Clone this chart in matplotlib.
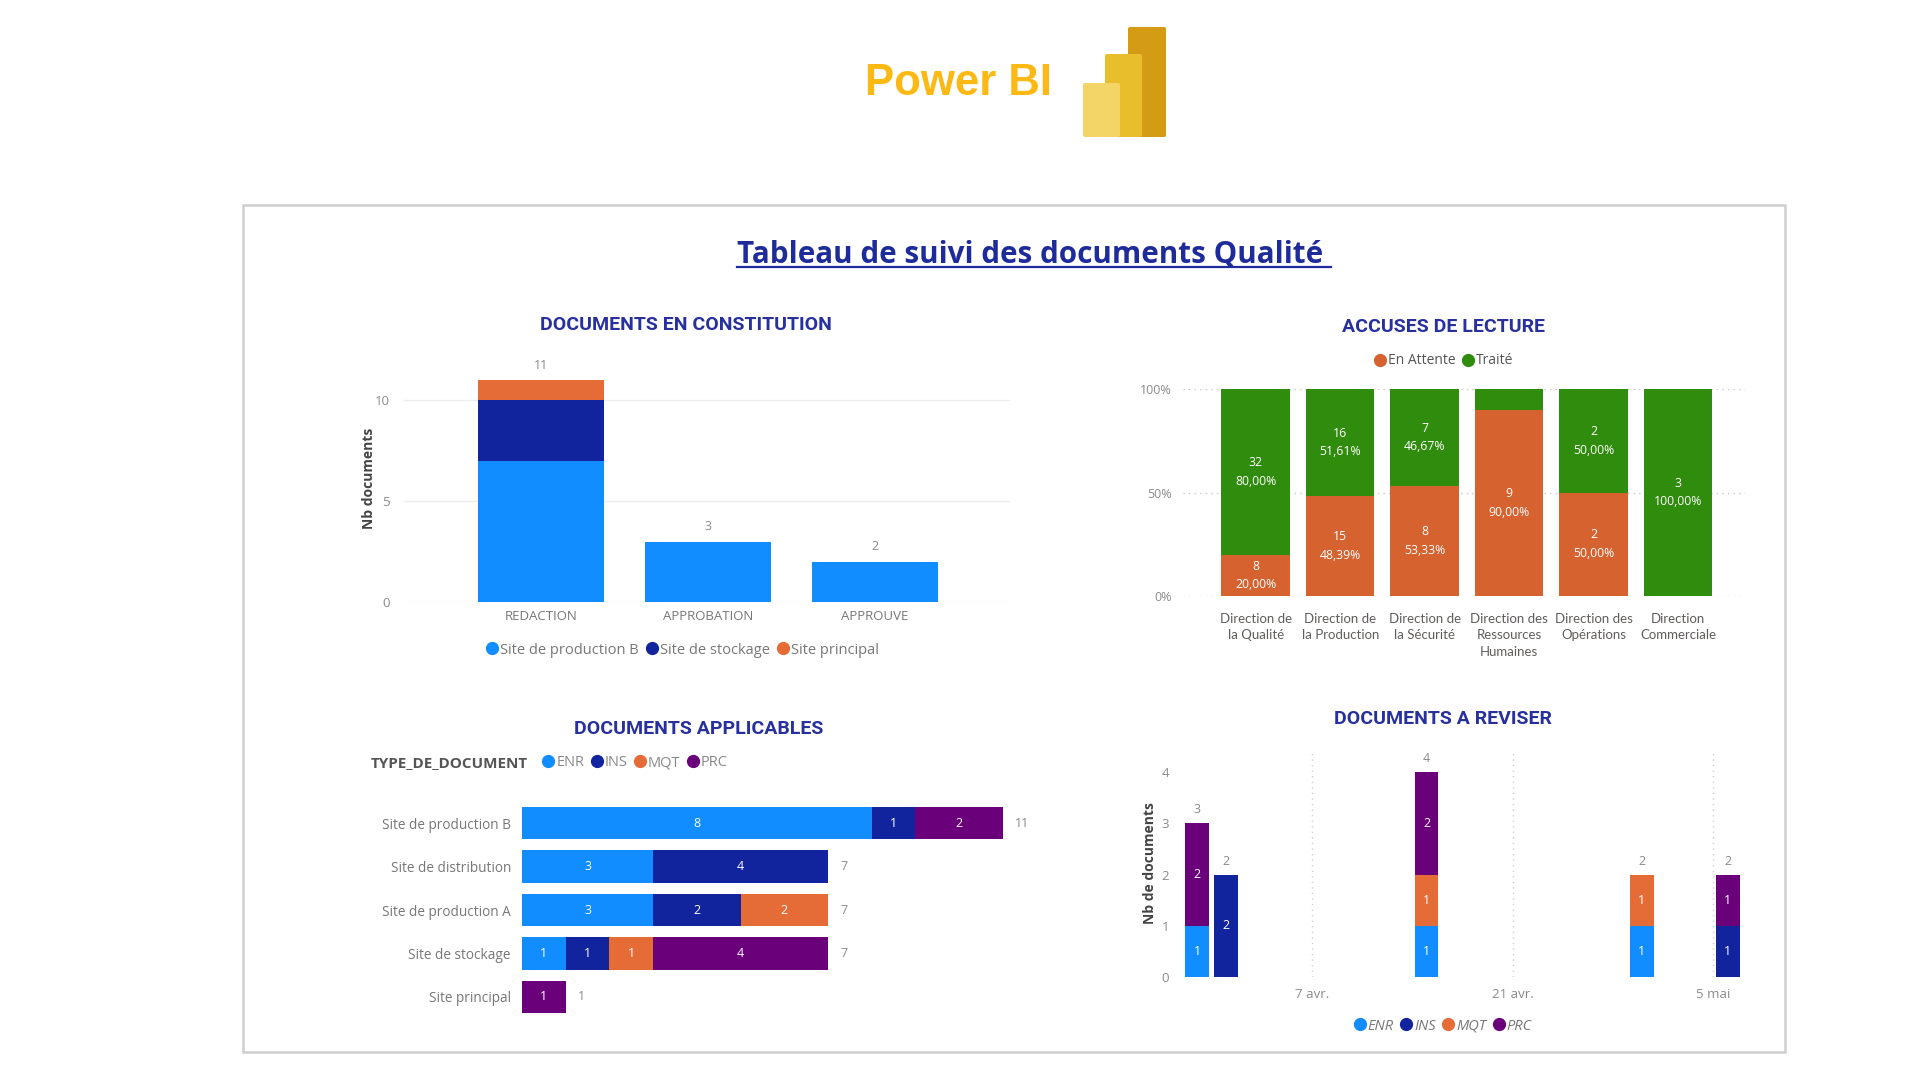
import numpy as np
import pandas as pd
import matplotlib
matplotlib.use('Agg')
import matplotlib.pyplot as plt
from matplotlib.lines import Line2D
from matplotlib.patches import Rectangle, FancyBboxPatch

plt.rcParams['font.family'] = ['Open Sans', 'DejaVu Sans']

W, H = 1920, 1080

# colours (Power BI default palette)
C_ENR = '#118DFF'
C_INS = '#12239E'
C_MQT = '#E66C37'
C_PRC = '#6B007B'
C_ATT = '#D5622F'
C_TRT = '#2F8C0C'
TITLE_C = '#27309C'
TICK_C = '#8A8A8A'
LAB_C = '#605E5C'

# --- documents en constitution
etapes = ['REDACTION', 'APPROBATION', 'APPROUVE']
const_sites = ['Site de production B', 'Site de stockage', 'Site principal']
const_prod_b = [7, 3, 2]
const_stockage = [3, 0, 0]
const_principal = [1, 0, 0]

# --- accuses de lecture
directions = ['Direction de\nla Qualité', 'Direction de\nla Production', 'Direction de\nla Sécurité',
              'Direction des\nRessources\nHumaines', 'Direction des\nOpérations', 'Direction\nCommerciale']
en_attente = [8, 15, 8, 9, 2, 0]
traite = [32, 16, 7, 1, 2, 3]

# --- documents applicables
sites = ['Site de production B', 'Site de distribution', 'Site de production A',
         'Site de stockage', 'Site principal']
types = ['ENR', 'INS', 'MQT', 'PRC']
app_enr = [8, 3, 3, 1, 0]
app_ins = [1, 4, 2, 1, 0]
app_mqt = [0, 0, 2, 1, 0]
app_prc = [2, 0, 0, 4, 1]

# --- documents a reviser
rev_dates = pd.to_datetime(['2024-03-30', '2024-04-01', '2024-04-15', '2024-04-30', '2024-05-06'])
rev_enr = [1, 0, 1, 1, 0]
rev_ins = [0, 2, 0, 0, 1]
rev_mqt = [0, 0, 1, 1, 0]
rev_prc = [2, 0, 2, 0, 1]
rev_ticks = pd.to_datetime(['2024-04-07', '2024-04-21', '2024-05-05'])
rev_tick_labels = ['7 avr.', '21 avr.', '5 mai']

TITLE_FONT = ['Roboto', 'DejaVu Sans']


def box(l, t, r, b):
    return [l / W, 1 - b / H, (r - l) / W, (b - t) / H]


def fx(x):
    return x / W


def fy(y):
    return 1 - y / H


def dot(c):
    return Line2D([], [], marker='o', ls='', color=c, markersize=8.5)


def chart_title(x, y, s):
    fig.text(fx(x), fy(y), s, ha='center', va='center', fontsize=14, fontweight='bold',
             color=TITLE_C, family=TITLE_FONT)


def clean(ax):
    for sp in ax.spines.values():
        sp.set_visible(False)
    ax.tick_params(length=0, colors=TICK_C, labelsize=9.5)


fig = plt.figure(figsize=(19.2, 10.8), dpi=100)

# frame
fig.add_artist(Rectangle((fx(243), fy(1052)), (1785 - 243) / W, (1052 - 205) / H,
                         transform=fig.transFigure, fill=False, ec='#CFCFCF', lw=1.8))

# Power BI header
fig.text(fx(1052), fy(84), 'Power BI', ha='right', va='center', fontsize=31.5, fontweight='bold',
         color='#FDB913', family=['Liberation Sans', 'DejaVu Sans'])
ax_logo = fig.add_axes(box(1078, 22, 1172, 142))
ax_logo.set_xlim(1078, 1172)
ax_logo.set_ylim(142, 22)
ax_logo.axis('off')
for (l, t, r, c) in [(1128, 27, 1166, '#D49B14'), (1105, 54, 1142, '#E8BE2C'), (1083, 83, 1120, '#F3D567')]:
    ax_logo.add_patch(FancyBboxPatch((l, t), r - l, 137 - t, boxstyle='round,pad=0,rounding_size=2',
                                     fc=c, ec='none'))

# main title
t = fig.text(fx(1034), fy(255), 'Tableau de suivi des documents Qualité ', ha='center', va='center',
             fontsize=21.3, fontweight='bold', color='#1E2B9B')
fig.canvas.draw()
bb = t.get_window_extent(fig.canvas.get_renderer())
fig.add_artist(Line2D([bb.x0 / W, bb.x1 / W], [(bb.y0 + 3) / H, (bb.y0 + 3) / H],
                      transform=fig.transFigure, color='#1E2B9B', lw=1.6))

# ---------------- DOCUMENTS EN CONSTITUTION
chart_title(686, 325, 'DOCUMENTS EN CONSTITUTION')
ax1 = fig.add_axes(box(404, 360, 1010, 602))
x = np.arange(len(etapes))
bot = np.zeros(len(etapes))
for vals, c in zip([const_prod_b, const_stockage, const_principal], [C_ENR, C_INS, C_MQT]):
    ax1.bar(x, vals, bottom=bot, width=0.755, color=c, zorder=3)
    bot += np.array(vals)
for xi, tot in zip(x, bot):
    ax1.annotate(f'{int(tot)}', (xi, tot), xytext=(0, 6), textcoords='offset points',
                 ha='center', va='bottom', fontsize=9, color=TICK_C)
ax1.set_xlim(-0.82, 2.81)
ax1.set_ylim(0, 12)
ax1.set_yticks([0, 5, 10])
ax1.set_xticks(x)
ax1.set_xticklabels(etapes)
clean(ax1)
ax1.tick_params(axis='y', pad=10)
ax1.tick_params(axis='x', pad=6, labelcolor='#777777')
ax1.yaxis.grid(True, color='#EDEDED', lw=1)
ax1.set_axisbelow(True)
ax1.set_ylabel('Nb documents', fontsize=10, fontweight='bold', color='#444444')
ax1.yaxis.set_label_coords(-0.046, 0.51)
fig.legend([dot(C_ENR), dot(C_INS), dot(C_MQT)], const_sites, loc='center',
           bbox_to_anchor=(fx(682), fy(650)), ncol=3, frameon=False, fontsize=10.5,
           handletextpad=0.05, columnspacing=0.4, handlelength=1.0, borderpad=0,
           labelcolor='#777777')

# ---------------- ACCUSES DE LECTURE
chart_title(1443, 327, 'ACCUSES DE LECTURE')
ax2 = fig.add_axes(box(1183, 389, 1745, 596))
x = np.arange(len(directions))
att = np.array(en_attente, dtype=float)
trt = np.array(traite, dtype=float)
tot = att + trt
p_att = att / tot
p_trt = trt / tot
ax2.bar(x, p_att, width=0.81, color=C_ATT, zorder=3)
ax2.bar(x, p_trt, bottom=p_att, width=0.81, color=C_TRT, zorder=3)
for xi in x:
    for v, p, b in [(att[xi], p_att[xi], 0), (trt[xi], p_trt[xi], p_att[xi])]:
        if p >= 0.15:
            lbl = f'{int(v)}\n' + f'{p * 100:.2f}'.replace('.', ',') + '%'
            ax2.text(xi, b + p / 2, lbl, ha='center', va='center', fontsize=8.8, color='white',
                     linespacing=1.55, zorder=4)
ax2.set_xlim(-0.86, 5.79)
ax2.set_ylim(0, 1)
ax2.set_yticks([0, 0.5, 1])
ax2.set_yticklabels(['0%', '50%', '100%'])
ax2.set_xticks(x)
ax2.set_xticklabels(directions, fontsize=9.3, linespacing=1.45, va='top', family=['Lato', 'DejaVu Sans'])
clean(ax2)
ax2.tick_params(axis='x', pad=12, labelcolor=LAB_C)
ax2.tick_params(axis='y', pad=8, labelsize=9)
ax2.yaxis.grid(True, color='#C8C8C8', lw=1, ls=(0, (1, 3)))
ax2.set_axisbelow(True)
fig.legend([dot(C_ATT), dot(C_TRT)], ['En Attente', 'Traité'], loc='center',
           bbox_to_anchor=(fx(1443), fy(361)), ncol=2, frameon=False, fontsize=10,
           handletextpad=0.05, columnspacing=0.4, handlelength=1.0, borderpad=0,
           labelcolor='#555555')

# ---------------- DOCUMENTS APPLICABLES
chart_title(699, 729, 'DOCUMENTS APPLICABLES')
ax3 = fig.add_axes(box(522, 800, 1050, 1020))
y = np.arange(len(sites))
left = np.zeros(len(sites))
for vals, c in zip([app_enr, app_ins, app_mqt, app_prc], [C_ENR, C_INS, C_MQT, C_PRC]):
    vals = np.array(vals)
    ax3.barh(y, vals, left=left, height=0.75, color=c, zorder=3)
    for yi, v, l in zip(y, vals, left):
        if v > 0:
            ax3.text(l + v / 2, yi, f'{v}', ha='center', va='center', fontsize=9, color='white', zorder=4)
    left += vals
for yi, tt in zip(y, left):
    ax3.annotate(f'{int(tt)}', (tt, yi), xytext=(9, 0), textcoords='offset points',
                 ha='left', va='center', fontsize=9, color=TICK_C)
ax3.set_xlim(0, 12.08)
ax3.set_ylim(4.53, -0.53)
ax3.set_xticks([])
ax3.set_yticks(y)
ax3.set_yticklabels(sites)
clean(ax3)
ax3.tick_params(axis='y', pad=8, labelcolor='#777777', labelsize=9.8)
fig.text(fx(371), fy(763), 'TYPE_DE_DOCUMENT', ha='left', va='center', fontsize=11,
         fontweight='bold', color='#555555')
fig.legend([dot(C_ENR), dot(C_INS), dot(C_MQT), dot(C_PRC)], types, loc='center left',
           bbox_to_anchor=(fx(541), fy(763)), ncol=4, frameon=False, fontsize=10.5,
           handletextpad=0.05, columnspacing=0.35, handlelength=1.0, borderpad=0, borderaxespad=0,
           labelcolor='#888888')

# ---------------- DOCUMENTS A REVISER
chart_title(1443, 719, 'DOCUMENTS A REVISER')
ax4 = fig.add_axes(box(1180, 750, 1745, 977))
bot = np.zeros(len(rev_dates))
for vals, c in zip([rev_enr, rev_ins, rev_mqt, rev_prc], [C_ENR, C_INS, C_MQT, C_PRC]):
    vals = np.array(vals)
    ax4.bar(rev_dates, vals, bottom=bot, width=1.64, color=c, zorder=3)
    for d, v, b in zip(rev_dates, vals, bot):
        if v > 0:
            ax4.text(d, b + v / 2, f'{v}', ha='center', va='center', fontsize=9, color='white', zorder=4)
    bot += vals
for d, tt in zip(rev_dates, bot):
    ax4.annotate(f'{int(tt)}', (d, tt), xytext=(0, 5), textcoords='offset points',
                 ha='center', va='bottom', fontsize=9, color=TICK_C)
ax4.set_xlim(rev_ticks[0] - pd.Timedelta(days=9.2), rev_ticks[-1] + pd.Timedelta(days=2.2))
ax4.set_ylim(0, 4.43)
ax4.set_yticks([0, 1, 2, 3, 4])
ax4.set_xticks(rev_ticks)
ax4.set_xticklabels(rev_tick_labels)
clean(ax4)
ax4.tick_params(axis='x', pad=8)
ax4.tick_params(axis='y', pad=8)
ax4.xaxis.grid(True, color='#D0D0D0', lw=1, ls=(0, (1, 3)))
ax4.set_axisbelow(True)
ax4.set_ylabel('Nb de documents', fontsize=10, fontweight='bold', color='#444444')
ax4.yaxis.set_label_coords(-0.041, 0.50)
fig.legend([dot(C_ENR), dot(C_INS), dot(C_MQT), dot(C_PRC)], types, loc='center',
           bbox_to_anchor=(fx(1442), fy(1026)), ncol=4, frameon=False,
           prop={'size': 10.5, 'style': 'italic'},
           handletextpad=0.05, columnspacing=0.35, handlelength=1.0, borderpad=0,
           labelcolor='#777777')

fig.savefig('out.png', dpi=100, facecolor='white')
